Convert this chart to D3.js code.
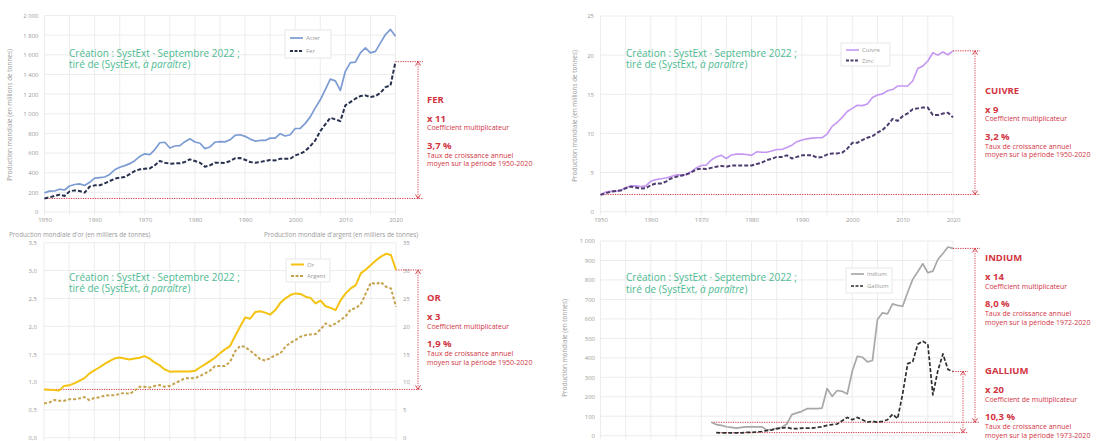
<!DOCTYPE html>
<html>
<head>
<meta charset="utf-8">
<script src="https://cdn.jsdelivr.net/npm/d3@7"></script>
<style>
  body { margin: 0; background: #fff; }
  svg { display: block; }
  text { font-family: "Open Sans", sans-serif; }
</style>
</head>
<body>
<svg id="chart" width="1099" height="441"></svg>
<script>
// ---- Données (production mondiale) ----
const years = d3.range(1950, 2021);
const decadeTicks = [1950, 1960, 1970, 1980, 1990, 2000, 2010, 2020];

// Acier et fer (millions de tonnes)
const acier = [195,212,214,232,224,265,280,286,270,302,
  345,350,356,382,430,455,472,492,522,566,
  592,584,635,705,710,652,672,676,716,745,
  712,700,645,662,710,716,714,735,780,786,
  770,742,722,728,728,752,752,797,774,786,
  850,852,902,968,1060,1142,1245,1352,1335,1237,
  1432,1520,1525,1620,1670,1620,1635,1722,1806,1858,
  1788];
const fer = [138,149,163,176,163,210,220,214,197,258,
  271,271,292,315,339,349,356,386,417,434,
  441,444,475,519,502,492,495,495,509,536,
  519,502,461,475,502,502,498,519,546,549,
  532,509,502,509,519,529,525,542,542,542,
  576,593,620,671,729,824,892,959,942,925,
  1085,1119,1153,1180,1187,1170,1180,1214,1271,1288,
  1530];

// Cuivre et zinc (millions de tonnes)
const cuivre = [2.2,2.5,2.6,2.6,2.75,3.05,3.3,3.3,3.2,3.3,
  3.9,4.1,4.2,4.3,4.5,4.7,4.7,4.75,5.1,5.6,
  5.9,5.95,6.6,7.0,7.2,6.8,7.25,7.35,7.35,7.3,
  7.2,7.65,7.6,7.6,7.75,7.95,7.95,8.2,8.5,8.95,
  9.15,9.3,9.4,9.45,9.45,9.9,10.9,11.4,12.05,12.8,
  13.2,13.6,13.55,13.75,14.6,14.9,15.05,15.45,15.6,16.05,
  16.05,16.05,16.7,18.3,18.6,19.25,20.3,20.0,20.4,20.05,
  20.55];
const zinc = [2.15,2.35,2.55,2.65,2.7,3.0,3.2,3.1,2.95,3.0,
  3.4,3.6,3.6,3.85,4.25,4.45,4.6,4.75,5.0,5.4,
  5.5,5.45,5.6,5.75,5.85,5.75,5.9,5.9,5.9,5.9,
  5.9,6.1,6.25,6.6,6.75,7.0,7.0,7.2,6.8,7.0,
  7.2,7.2,7.2,6.9,7.0,7.3,7.45,7.45,7.55,8.05,
  8.8,8.8,9.15,9.45,9.65,10.1,10.45,11.05,11.85,11.6,
  12.2,12.55,13.1,13.2,13.3,13.3,12.35,12.35,12.55,12.65,
  12.05];

// Or (milliers de tonnes, axe gauche) et argent (milliers de tonnes, axe droit)
const or = [0.867,0.86,0.855,0.845,0.93,0.94,0.975,1.02,1.065,1.15,
  1.21,1.26,1.32,1.375,1.42,1.44,1.42,1.405,1.42,1.435,
  1.465,1.42,1.35,1.30,1.225,1.185,1.19,1.19,1.19,1.19,
  1.20,1.26,1.315,1.375,1.435,1.515,1.585,1.645,1.825,1.99,
  2.16,2.135,2.255,2.27,2.245,2.21,2.29,2.42,2.50,2.56,
  2.59,2.58,2.53,2.51,2.41,2.46,2.36,2.33,2.29,2.47,
  2.59,2.68,2.74,2.95,3.02,3.10,3.18,3.25,3.30,3.28,
  3.01];
const argent = [6.16,6.28,6.76,6.64,6.64,6.88,6.88,7.06,7.3,6.76,
  7.12,7.24,7.54,7.6,7.6,7.84,8.07,7.84,8.43,9.15,
  9.15,9.03,9.27,9.45,9.15,9.27,9.75,10.2,10.65,10.65,
  10.65,11.06,11.54,12.02,12.86,12.86,12.86,13.64,15.5,16.45,
  16.3,15.6,14.9,14.1,13.85,14.3,14.83,15.13,16.33,17.05,
  17.52,18.12,18.42,18.54,18.6,19.44,20.51,20.04,20.51,21.11,
  21.83,23.03,23.21,23.98,25.9,27.81,27.57,27.93,27.09,26.79,
  23.5];

// Indium (tonnes, depuis 1972) et gallium (tonnes, depuis 1973)
const indiumYears = d3.range(1972, 2021);
const indium = [69,57,53,46,43,39,43,45,46,45,
  46,29,33,38,43,60,108,117,125,139,
  139,139,142,242,202,232,228,214,331,408,
  403,379,386,597,631,626,677,669,665,737,
  803,842,883,837,845,905,936,969,962];
const galliumYears = d3.range(1973, 2021);
const gallium = [16,14,14,14,14,15,17,17,19,22,
  26,29,36,39,43,36,36,39,39,39,
  43,46,53,57,60,77,94,82,94,82,
  70,74,69,74,82,110,88,215,370,380,
  470,485,470,210,335,420,340,330];

// ---- Mise en forme ----
const fr = d3.formatLocale({ decimal: ",", thousands: "\u00a0", grouping: [3], currency: ["", " €"] });
const RED = "#d2343f";
const GREEN = "#4dba91";
const GREY_TXT = "#9a9a9a";
const GRID = "#ececec";

const svg = d3.select("#chart");

function panel(cfg) {
  const g = svg.append("g");
  const x = d3.scaleLinear().domain([1950, 2020]).range([cfg.x0, cfg.x1]);
  const y = d3.scaleLinear().domain([0, cfg.yMax]).range([cfg.yBot, cfg.yTop]);
  const yTicks = d3.range(0, cfg.yMax + cfg.yStep / 2, cfg.yStep);

  // quadrillage
  g.append("g").selectAll("line").data(yTicks).join("line")
    .attr("x1", cfg.x0).attr("x2", cfg.x1)
    .attr("y1", d => y(d)).attr("y2", d => y(d))
    .attr("stroke", GRID).attr("stroke-width", 1);
  g.append("g").selectAll("line").data(d3.range(1950, 2021, 5)).join("line")
    .attr("x1", d => x(d)).attr("x2", d => x(d))
    .attr("y1", cfg.yTop).attr("y2", cfg.yBot + 3)
    .attr("stroke", GRID).attr("stroke-width", 1);

  // axe des ordonnées
  const ya = g.append("g").attr("transform", `translate(${cfg.x0},0)`)
    .call(d3.axisLeft(y).tickValues(yTicks).tickSize(0).tickPadding(cfg.x0 - cfg.labelRight)
      .tickFormat(fr.format(cfg.fmt)));
  ya.select(".domain").remove();
  ya.selectAll("text").attr("font-family", "Open Sans").attr("font-size", 6).attr("fill", GREY_TXT);

  // axe des abscisses (libellés des décennies, visibles pour les panneaux du haut)
  if (cfg.xLabels) {
    const xa = g.append("g").attr("transform", `translate(0,${cfg.yBot})`)
      .call(d3.axisBottom(x).tickValues(decadeTicks).tickSize(0).tickPadding(6).tickFormat(d3.format("d")));
    xa.select(".domain").remove();
    xa.selectAll("text").attr("font-family", "Open Sans").attr("font-size", 6).attr("fill", GREY_TXT);
  }

  return { g, x, y };
}

function series(p, xs, vals, yScale, color, width, dash) {
  const line = d3.line().x((d, i) => p.x(xs[i])).y(d => yScale(d));
  p.g.append("path").datum(vals)
    .attr("d", line).attr("fill", "none")
    .attr("stroke", color).attr("stroke-width", width)
    .attr("stroke-linejoin", "round")
    .attr("stroke-dasharray", dash || null);
}

function refLine(g, x1, x2, yy) {
  g.append("line").attr("x1", x1).attr("x2", x2).attr("y1", yy).attr("y2", yy)
    .attr("stroke", RED).attr("stroke-width", 1).attr("stroke-dasharray", "1.2,1.2");
}

function arrow(g, xa, yTop, yBot) {
  g.append("line").attr("x1", xa).attr("x2", xa).attr("y1", yTop).attr("y2", yBot)
    .attr("stroke", RED).attr("stroke-width", 0.9).attr("stroke-dasharray", "1.2,1.2");
  g.append("path").attr("d", `M${xa - 2.5},${yTop + 4}L${xa},${yTop}L${xa + 2.5},${yTop + 4}`)
    .attr("fill", "none").attr("stroke", RED).attr("stroke-width", 0.9);
  g.append("path").attr("d", `M${xa - 2.5},${yBot - 4}L${xa},${yBot}L${xa + 2.5},${yBot - 4}`)
    .attr("fill", "none").attr("stroke", RED).attr("stroke-width", 0.9);
}

function note(g, xt, b, lines) {
  const offs = [0, 19, 27.5, 46, 55, 63.5];
  const bold = [true, true, false, true, false, false];
  lines.forEach((t, i) => {
    g.append("text").attr("x", xt).attr("y", b + offs[i])
      .attr("font-size", bold[i] ? 9.5 : 7)
      .attr("font-weight", bold[i] ? 700 : 400)
      .attr("fill", RED).text(t);
  });
}

function credit(g, xt, b) {
  g.append("text").attr("x", xt).attr("y", b).attr("font-size", 10).attr("fill", GREEN)
    .text("Création : SystExt · Septembre 2022 ;");
  // deuxième ligne : trois morceaux placés bout à bout (le titre de l'ouvrage en italique)
  const parts = [["tiré de (SystExt,", "normal", 2.6], ["à paraître", "italic", 0.4], [")", "normal", 0]];
  let cx = xt;
  parts.forEach(([t, style, gap]) => {
    const el = g.append("text").attr("x", cx).attr("y", b + 11.5).attr("font-size", 10)
      .attr("font-style", style).attr("fill", GREEN).text(t);
    cx += el.node().getComputedTextLength() + gap;
  });
}

function legend(g, bx, by, bw, bh, items) {
  g.append("rect").attr("x", bx).attr("y", by).attr("width", bw).attr("height", bh)
    .attr("fill", "#fff").attr("stroke", "#e0e0e0").attr("stroke-width", 0.8);
  items.forEach(it => {
    const yy = by + it.dy;
    g.append("line").attr("x1", bx + 5).attr("x2", bx + 18).attr("y1", yy).attr("y2", yy)
      .attr("stroke", it.color).attr("stroke-width", it.width).attr("stroke-dasharray", it.dash || null);
    g.append("text").attr("x", bx + 21).attr("y", yy + 2.2).attr("font-size", 6)
      .attr("fill", GREY_TXT).text(it.label);
  });
}

function yTitle(g, xt, cy, label) {
  g.append("text").attr("transform", `translate(${xt},${cy}) rotate(-90)`)
    .attr("text-anchor", "middle").attr("font-size", 6.4).attr("fill", GREY_TXT).text(label);
}

// ---- Panneau 1 : acier / fer ----
const p1 = panel({ x0: 44.5, x1: 395.5, yTop: 15.5, yBot: 212, yMax: 2000, yStep: 200, fmt: ",d", labelRight: 38.5, xLabels: true });
yTitle(p1.g, 12, 115, "Production mondiale (en millions de tonnes)");
credit(p1.g, 69, 56.5);
refLine(p1.g, 44.5, 423, p1.y(fer[0]));
refLine(p1.g, p1.x(2020), 423, p1.y(fer[fer.length - 1]));
series(p1, years, acier, p1.y, "#7b9bd3", 1.7);
series(p1, years, fer, p1.y, "#27304d", 2, "4,2");
arrow(p1.g, 418, p1.y(fer[fer.length - 1]), p1.y(fer[0]));
legend(p1.g, 285, 30, 46, 28, [
  { label: "Acier", color: "#7b9bd3", width: 1.7, dy: 8 },
  { label: "Fer", color: "#27304d", width: 2, dash: "3,1.5", dy: 21 }
]);
note(p1.g, 427, 102.5, ["FER", "x 11", "Coefficient multiplicateur", "3,7 %",
  "Taux de croissance annuel", "moyen sur la période 1950-2020"]);

// ---- Panneau 2 : cuivre / zinc ----
const p2 = panel({ x0: 600.5, x1: 953, yTop: 16, yBot: 211.7, yMax: 25, yStep: 5, fmt: ",d", labelRight: 594, xLabels: true });
yTitle(p2.g, 577, 116, "Production mondiale (en millions de tonnes)");
credit(p2.g, 626, 56.5);
refLine(p2.g, 600.5, 980, p2.y(cuivre[0]));
refLine(p2.g, p2.x(2020), 980, p2.y(cuivre[cuivre.length - 1]));
series(p2, years, cuivre, p2.y, "#c597f2", 1.6);
series(p2, years, zinc, p2.y, "#4d3c6e", 2, "4,2");
arrow(p2.g, 975, p2.y(cuivre[cuivre.length - 1]), p2.y(cuivre[0]));
legend(p2.g, 841, 43, 49, 23, [
  { label: "Cuivre", color: "#c597f2", width: 1.6, dy: 7 },
  { label: "Zinc", color: "#4d3c6e", width: 2, dash: "3,1.5", dy: 17.5 }
]);
note(p2.g, 985, 93.5, ["CUIVRE", "x 9", "Coefficient multiplicateur", "3,2 %",
  "Taux de croissance annuel", "moyen sur la période 1950-2020"]);

// ---- Panneau 3 : or / argent ----
const p3 = panel({ x0: 44, x1: 396, yTop: 242.7, yBot: 437.7, yMax: 3.5, yStep: 0.5, fmt: ",.1f", labelRight: 37, xLabels: false });
const yArgent = d3.scaleLinear().domain([0, 35]).range([437.7, 242.7]);
const ra = p3.g.append("g").attr("transform", "translate(396,0)")
  .call(d3.axisRight(yArgent).tickValues(d3.range(0, 36, 5)).tickSize(0).tickPadding(7).tickFormat(fr.format(",d")));
ra.select(".domain").remove();
ra.selectAll("text").attr("font-family", "Open Sans").attr("font-size", 6).attr("fill", GREY_TXT);
p3.g.append("text").attr("x", 9).attr("y", 237).attr("font-size", 6.3).attr("fill", GREY_TXT)
  .text("Production mondiale d'or (en milliers de tonnes)");
p3.g.append("text").attr("x", 264).attr("y", 237).attr("font-size", 6.3).attr("fill", GREY_TXT)
  .text("Production mondiale d'argent (en milliers de tonnes)");
credit(p3.g, 69, 280.5);
refLine(p3.g, 44, 423, p3.y(or[0]));
refLine(p3.g, p3.x(2020), 423, p3.y(or[or.length - 1]));
series(p3, years, argent, yArgent, "#c4a34c", 2, "3,2");
series(p3, years, or, p3.y, "#f4c20f", 2);
arrow(p3.g, 418, p3.y(or[or.length - 1]), p3.y(or[0]));
legend(p3.g, 286, 259, 44, 23, [
  { label: "Or", color: "#f4c20f", width: 2, dy: 5.5 },
  { label: "Argent", color: "#c4a34c", width: 2, dash: "3,1.5", dy: 17 }
]);
note(p3.g, 427, 301, ["OR", "x 3", "Coefficient multiplicateur", "1,9 %",
  "Taux de croissance annuel", "moyen sur la période 1950-2020"]);

// ---- Panneau 4 : indium / gallium ----
const p4 = panel({ x0: 600.5, x1: 953, yTop: 241, yBot: 435.7, yMax: 1000, yStep: 100, fmt: ",d", labelRight: 595, xLabels: false });
yTitle(p4.g, 567, 348, "Production mondiale (en tonnes)");
credit(p4.g, 626, 281);
refLine(p4.g, p4.x(indiumYears[0]), 980, p4.y(indium[0]));
refLine(p4.g, p4.x(galliumYears[0]), 968, p4.y(gallium[0]));
refLine(p4.g, p4.x(2020), 980, p4.y(indium[indium.length - 1]));
refLine(p4.g, p4.x(2020), 968, p4.y(gallium[gallium.length - 1]));
series(p4, indiumYears, indium, p4.y, "#a8a8a8", 1.7);
series(p4, galliumYears, gallium, p4.y, "#2e2e2e", 1.7, "4,2");
arrow(p4.g, 975, p4.y(indium[indium.length - 1]), p4.y(indium[0]));
arrow(p4.g, 963, p4.y(gallium[gallium.length - 1]), p4.y(gallium[0]));
legend(p4.g, 846, 268, 46, 25, [
  { label: "Indium", color: "#a8a8a8", width: 1.7, dy: 6 },
  { label: "Gallium", color: "#2e2e2e", width: 1.7, dash: "3,1.5", dy: 18 }
]);
note(p4.g, 985, 261, ["INDIUM", "x 14", "Coefficient multiplicateur", "8,0 %",
  "Taux de croissance annuel", "moyen sur la période 1972-2020"]);
note(p4.g, 985, 374, ["GALLIUM", "x 20", "Coefficient de multiplicateur", "10,3 %",
  "Taux de croissance annuel", "moyen sur la période 1973-2020"]);
</script>
</body>
</html>
